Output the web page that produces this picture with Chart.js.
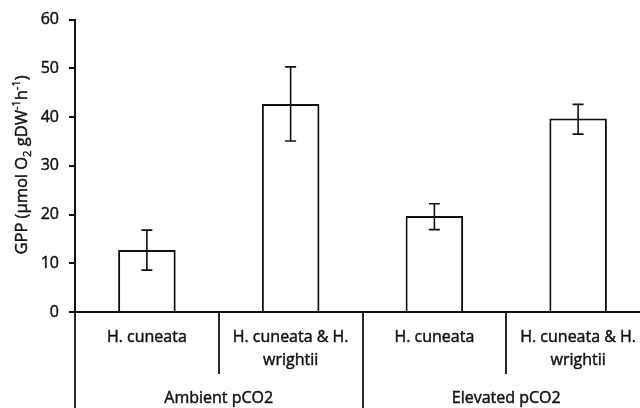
<!DOCTYPE html>
<html><head><meta charset="utf-8">
<script src="https://cdn.jsdelivr.net/npm/chart.js@4.4.1/dist/chart.umd.min.js"></script>
<style>
html,body{margin:0;padding:0;background:#fff;overflow:hidden;width:640px;height:408px}
#wrap{width:640px;height:408px;overflow:hidden}
canvas{display:block}
</style></head><body>
<div id="wrap"><canvas id="c" width="662" height="408"></canvas></div>
<script>
// Category labels (multi-line where the label wraps) and their treatment groups
const categories = [["H. cuneata"], ["H. cuneata & H.", "wrightii"], ["H. cuneata"], ["H. cuneata & H.", "wrightii"]];
const groups = ["Ambient pCO2", "Elevated pCO2"];
const groupSizes = [2, 2];
// Mean GPP and the lower / upper ends of the error bars
const gppMean = [12.7, 42.7, 19.7, 39.7];
const errLow = [8.6, 35.1, 16.9, 36.5];
const errHigh = [16.8, 50.3, 22.2, 42.6];
const yTicks = [0, 10, 20, 30, 40, 50, 60];

const FONT = '"Open Sans", Lato, sans-serif';
const INK = '#111';
const TEXT_STROKE = 0.45;

const barShadow = {
  id: 'barShadow',
  beforeDatasetsDraw(chart) {
    const ctx = chart.ctx;
    ctx.save();
    ctx.shadowColor = 'rgba(0,0,0,0.28)';
    ctx.shadowBlur = 3;
    ctx.shadowOffsetX = 1.5;
    ctx.shadowOffsetY = 1.5;
  },
  afterDatasetsDraw(chart) {
    chart.ctx.restore();
  }
};

const errorBars = {
  id: 'errorBars',
  afterDatasetsDraw(chart) {
    const ctx = chart.ctx, x = chart.scales.x, y = chart.scales.y;
    ctx.save();
    ctx.strokeStyle = INK;
    ctx.lineWidth = 1.6;
    gppMean.forEach((v, i) => {
      const px = x.getPixelForValue(i);
      const lo = y.getPixelForValue(errLow[i]);
      const hi = y.getPixelForValue(errHigh[i]);
      ctx.beginPath();
      ctx.moveTo(px, lo); ctx.lineTo(px, hi);
      ctx.moveTo(px - 5.5, lo); ctx.lineTo(px + 5.5, lo);
      ctx.moveTo(px - 5.5, hi); ctx.lineTo(px + 5.5, hi);
      ctx.stroke();
    });
    ctx.restore();
  }
};

// filled text with a hairline outline so it reads as heavy as the axis labels
function text(ctx, t, x, y) {
  ctx.fillText(t, x, y);
  ctx.strokeText(t, x, y);
}

const groupedAxis = {
  id: 'groupedAxis',
  afterDraw(chart) {
    const ctx = chart.ctx, x = chart.scales.x, area = chart.chartArea;
    const n = categories.length;
    const catW = (area.right - area.left) / n;
    const base = area.bottom;
    const H = chart.height;
    ctx.save();
    ctx.strokeStyle = INK;
    ctx.lineWidth = 1.8;
    // separators: long ones between groups, short ones between categories
    const groupEdges = new Set([0]);
    let acc = 0;
    groupSizes.forEach(s => { acc += s; groupEdges.add(acc); });
    for (let i = 0; i <= n; i++) {
      const px = Math.round(area.left + i * catW);
      ctx.beginPath();
      ctx.moveTo(px, base);
      ctx.lineTo(px, groupEdges.has(i) ? H : base + 62);
      ctx.stroke();
    }
    // category labels
    ctx.fillStyle = INK;
    ctx.lineWidth = TEXT_STROKE;
    ctx.font = '16px ' + FONT;
    ctx.textAlign = 'center';
    ctx.textBaseline = 'middle';
    categories.forEach((lines, i) => {
      const px = x.getPixelForValue(i);
      lines.forEach((t, k) => text(ctx, t, px, base + 25 + k * 23));
    });
    // group labels
    let start = 0;
    groups.forEach((g, gi) => {
      const l = area.left + start * catW;
      const r = area.left + (start + groupSizes[gi]) * catW;
      text(ctx, g, (l + r) / 2, base + 86);
      start += groupSizes[gi];
    });
    // y-axis title with subscript and superscripts
    const parts = [
      ['GPP (\u00b5mol O', 0], ['2', 1], [' gDW', 0], ['-1', -1], ['h', 0], ['-1', -1], [')', 0]
    ];
    const big = '16.5px ' + FONT, small = '11px ' + FONT;
    let total = 0;
    parts.forEach(([t, s]) => { ctx.font = s ? small : big; total += ctx.measureText(t).width; });
    ctx.translate(21, 165);
    ctx.rotate(-Math.PI / 2);
    ctx.textAlign = 'left';
    ctx.textBaseline = 'alphabetic';
    let cx = -total / 2;
    parts.forEach(([t, s]) => {
      ctx.font = s ? small : big;
      const dy = s === 1 ? 4 : (s === -1 ? -6.5 : 0);
      text(ctx, t, cx, 5.5 + dy);
      cx += ctx.measureText(t).width;
    });
    ctx.restore();
  }
};

new Chart(document.getElementById('c'), {
  type: 'bar',
  data: {
    labels: categories,
    datasets: [{
      data: gppMean,
      backgroundColor: '#ffffff',
      borderColor: INK,
      borderWidth: 2,
      barPercentage: 0.4,
      categoryPercentage: 1.0
    }]
  },
  options: {
    responsive: false,
    animation: false,
    events: [],
    layout: { padding: { left: 0, top: 16, right: 12, bottom: 96 } },
    plugins: { legend: { display: false }, tooltip: { enabled: false } },
    scales: {
      x: {
        ticks: { display: false },
        grid: { display: true, drawOnChartArea: false, drawTicks: false },
        border: { display: true, color: INK, width: 2 },
        afterFit(s) { s.height = 0; }
      },
      y: {
        min: 0, max: 60,
        afterBuildTicks(s) { s.ticks = yTicks.map(v => ({ value: v })); },
        ticks: {
          font: { family: FONT, size: 16 }, color: INK, padding: 10,
          textStrokeColor: INK, textStrokeWidth: TEXT_STROKE
        },
        grid: { display: true, drawOnChartArea: false, drawTicks: true, tickLength: 6, color: INK, lineWidth: 2 },
        border: { display: true, color: INK, width: 2 },
        afterFit(s) { s.width = 75; }
      }
    }
  },
  plugins: [barShadow, errorBars, groupedAxis]
});
</script>
</body></html>
